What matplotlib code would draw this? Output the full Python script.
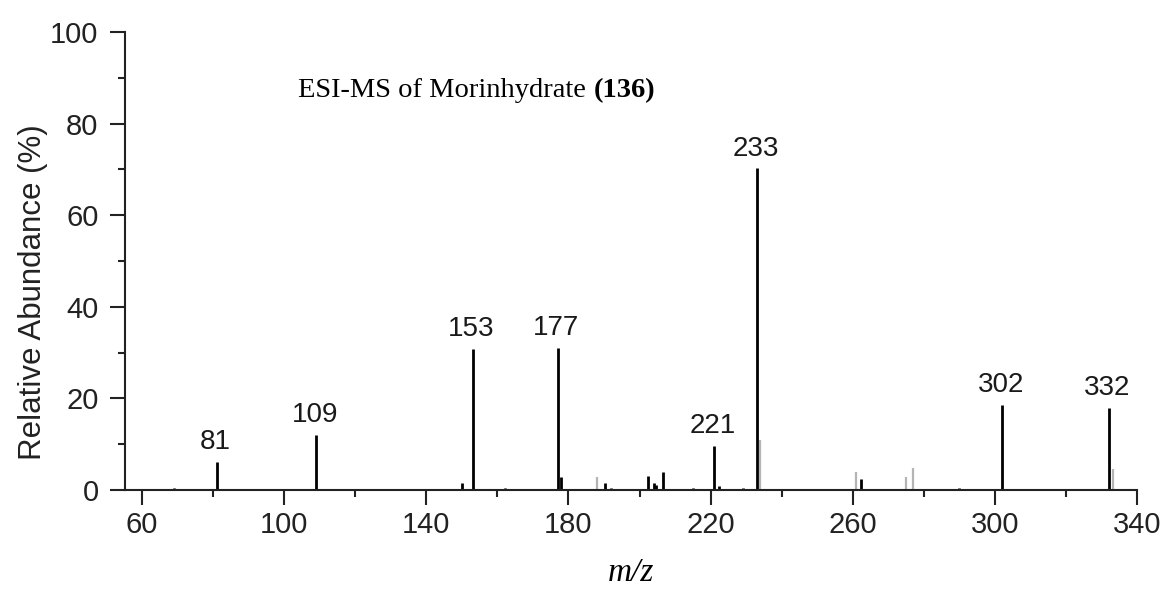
"""
ESI-MS spectrum of morinhydrate, stick plot
"""

import matplotlib
matplotlib.use("Agg")
import matplotlib.pyplot as plt
from matplotlib.ticker import MultipleLocator

# black sticks (m/z, relative abundance %)
peak_mz = [69, 81, 109, 150, 153, 162, 177, 178, 190.4, 192, 202.5, 204, 204.6,
           206.7, 215, 221, 222.3, 229, 233, 262.2, 290, 302, 332]
peak_int = [0.5, 6.2, 12.0, 1.6, 30.7, 0.5, 31.0, 2.8, 1.6, 0.5, 3.1, 1.6, 1.2,
            4.0, 0.5, 9.6, 0.8, 0.5, 70.2, 2.5, 0.5, 18.6, 17.9]

# faint grey sticks
grey_mz = [188, 234, 261, 275, 277, 333.3]
grey_int = [2.8, 10.9, 4.0, 2.8, 4.7, 4.6]

# labelled peaks
label_mz = [81, 109, 153, 177, 221, 233, 302, 332]

W, H = 1167, 589
fig = plt.figure(figsize=(W / 100, H / 100), dpi=100)
ax = fig.add_axes([125 / W, 1 - 490 / H, (1137 - 125) / W, (490 - 32) / H])

ax.vlines(grey_mz, 0, grey_int, colors="#b4b4b4", linewidth=1.6)
ax.vlines(peak_mz, 0, peak_int, colors="black", linewidth=2.0)

lookup = dict(zip(peak_mz, peak_int))
for m in label_mz:
    ax.annotate(str(m), xy=(m, lookup[m]), xytext=(-1, 5), textcoords="offset points",
                ha="center", va="bottom", fontsize=20, family="Liberation Sans",
                color="#1a1a1a")

t1 = ax.text(104, 85.8, "ESI-MS of Morinhydrate ", family="Liberation Serif",
             fontsize=20.5, va="baseline")
ax.annotate("(136)", xy=(1, 0), xycoords=t1, va="bottom", ha="left",
            family="Liberation Serif", fontsize=20.5, fontweight="bold")

ax.set_xlim(55.2, 340)
ax.set_ylim(0, 100)
ax.set_xticks(range(60, 341, 40))
ax.xaxis.set_minor_locator(MultipleLocator(20))
ax.yaxis.set_major_locator(MultipleLocator(20))
ax.yaxis.set_minor_locator(MultipleLocator(10))

for s in ["top", "right"]:
    ax.spines[s].set_visible(False)
for s in ["left", "bottom"]:
    ax.spines[s].set_linewidth(1.5)
    ax.spines[s].set_color("#222222")

ax.tick_params(which="major", length=11, width=1.5, color="#222222",
               labelsize=21, labelcolor="#222222")
ax.tick_params(which="minor", length=5, width=1.5, color="#222222")
ax.tick_params(axis="x", pad=4)
ax.tick_params(axis="y", pad=8)
for lab in ax.get_xticklabels() + ax.get_yticklabels():
    lab.set_family("Liberation Sans")

ax.set_xlabel("m/z", family="Liberation Serif", style="italic", fontsize=24)
ax.xaxis.set_label_coords(0.5, -0.148)
ax.set_ylabel("Relative Abundance (%)", family="Liberation Sans", fontsize=22.5,
              color="#222222")
ax.yaxis.set_label_coords(-0.076, 0.432)

fig.savefig("out.png", dpi=100)
